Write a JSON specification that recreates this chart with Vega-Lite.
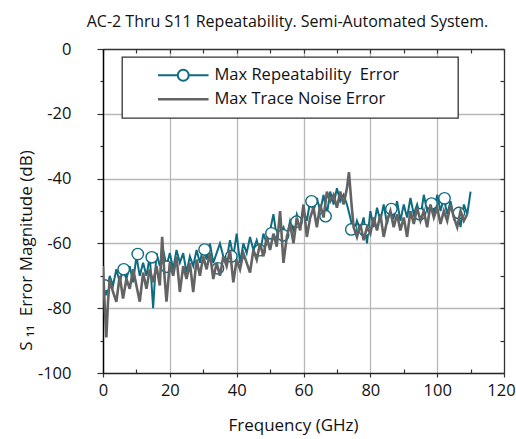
{
  "$schema": "https://vega.github.io/schema/vega-lite/v6.json",
  "width": 401,
  "height": 324,
  "autosize": "none",
  "padding": {"left": 103, "top": 49, "right": 12, "bottom": 66},
  "background": "white",
  "title": {"text": "AC-2 Thru S11 Repeatability. Semi-Automated System.", "font": "Open Sans", "fontSize": 16, "fontWeight": "normal", "color": "#111111", "anchor": "middle", "dx": -16, "offset": 11},
  "config": {"view": {"stroke": null}, "font": "Open Sans"},
  "datasets": {
    "repeat": [
      {"f":0,"db":-73},{"f":1,"db":-76},{"f":2,"db":-70},{"f":3,"db":-73},{"f":4,"db":-68},{"f":5,"db":-72},{"f":6,"db":-68},{"f":7,"db":-71},{"f":8,"db":-67},{"f":9,"db":-72},
      {"f":10,"db":-64},{"f":11,"db":-70},{"f":12,"db":-66},{"f":13,"db":-70},{"f":14,"db":-64},{"f":15,"db":-80},{"f":16,"db":-63},{"f":17,"db":-67},{"f":18,"db":-62},{"f":19,"db":-67},
      {"f":20,"db":-63},{"f":21,"db":-68},{"f":22,"db":-62},{"f":23,"db":-66},{"f":24,"db":-63},{"f":25,"db":-69},{"f":26,"db":-64},{"f":27,"db":-67},{"f":28,"db":-62},{"f":29,"db":-66},
      {"f":30,"db":-61},{"f":31,"db":-65},{"f":32,"db":-60},{"f":33,"db":-66},{"f":34,"db":-63},{"f":35,"db":-60},{"f":36,"db":-64},{"f":37,"db":-65},{"f":38,"db":-59},{"f":39,"db":-64},
      {"f":40,"db":-57},{"f":41,"db":-66},{"f":42,"db":-60},{"f":43,"db":-63},{"f":44,"db":-58},{"f":45,"db":-62},{"f":46,"db":-59},{"f":47,"db":-63},{"f":48,"db":-57},{"f":49,"db":-60},
      {"f":50,"db":-56},{"f":51,"db":-51},{"f":52,"db":-58},{"f":53,"db":-57},{"f":54,"db":-55},{"f":55,"db":-58},{"f":56,"db":-53},{"f":57,"db":-56},{"f":58,"db":-51},{"f":59,"db":-54},
      {"f":60,"db":-50},{"f":61,"db":-53},{"f":62,"db":-47},{"f":63,"db":-50},{"f":64,"db":-46},{"f":65,"db":-50},{"f":66,"db":-45},{"f":67,"db":-51},{"f":68,"db":-44},{"f":69,"db":-48},
      {"f":70,"db":-43},{"f":71,"db":-47},{"f":72,"db":-45},{"f":73,"db":-48},{"f":74,"db":-52},{"f":75,"db":-57},{"f":76,"db":-53},{"f":77,"db":-56},{"f":78,"db":-52},{"f":79,"db":-60},
      {"f":80,"db":-50},{"f":81,"db":-55},{"f":82,"db":-49},{"f":83,"db":-53},{"f":84,"db":-48},{"f":85,"db":-54},{"f":86,"db":-49},{"f":87,"db":-52},{"f":88,"db":-47},{"f":89,"db":-53},
      {"f":90,"db":-48},{"f":91,"db":-52},{"f":92,"db":-46},{"f":93,"db":-51},{"f":94,"db":-48},{"f":95,"db":-52},{"f":96,"db":-45},{"f":97,"db":-50},{"f":98,"db":-47},{"f":99,"db":-51},
      {"f":100,"db":-45},{"f":101,"db":-50},{"f":102,"db":-46},{"f":103,"db":-51},{"f":104,"db":-47},{"f":105,"db":-52},{"f":106,"db":-49},{"f":107,"db":-55},{"f":108,"db":-48},{"f":109,"db":-51},
      {"f":110,"db":-44}
    ],
    "markers": [
      {"f":0.5,"db":-73},{"f":6.2,"db":-68},{"f":10.4,"db":-63.3},{"f":14.6,"db":-64.3},{"f":19,"db":-67.2},{"f":30.4,"db":-61.9},{"f":34.4,"db":-67.7},{"f":38.4,"db":-64},
      {"f":46.9,"db":-62.1},{"f":50.4,"db":-56.9},{"f":53.9,"db":-57.5},{"f":57.9,"db":-53.3},{"f":62.4,"db":-47},{"f":66.6,"db":-51.6},{"f":74.3,"db":-55.7},{"f":78.3,"db":-55.9},
      {"f":86.3,"db":-49.4},{"f":94.8,"db":-51},{"f":98.3,"db":-47.7},{"f":102.2,"db":-46.1},{"f":106.5,"db":-50.6}
    ],
    "noise": [
      {"f":0,"db":-67},{"f":0.5,"db":-79},{"f":1,"db":-89},{"f":1.5,"db":-78},{"f":2,"db":-71},{"f":3,"db":-75},{"f":4,"db":-78},{"f":5,"db":-70},{"f":6,"db":-77},{"f":7,"db":-71},
      {"f":8,"db":-74},{"f":9,"db":-68},{"f":10,"db":-73},{"f":11,"db":-78},{"f":12,"db":-69},{"f":13,"db":-74},{"f":14,"db":-68},{"f":15,"db":-72},{"f":16,"db":-67},{"f":17,"db":-73},
      {"f":17.7,"db":-58},{"f":18.4,"db":-70},{"f":19,"db":-78},{"f":20,"db":-66},{"f":21,"db":-70},{"f":22,"db":-64},{"f":23,"db":-75},{"f":24,"db":-67},{"f":25,"db":-71},{"f":26,"db":-66},
      {"f":27,"db":-75},{"f":28,"db":-65},{"f":29,"db":-70},{"f":30,"db":-64},{"f":31,"db":-68},{"f":32,"db":-63},{"f":33,"db":-71},{"f":34,"db":-66},{"f":35,"db":-70},{"f":36,"db":-64},
      {"f":37,"db":-67},{"f":38,"db":-62},{"f":39,"db":-72},{"f":40,"db":-65},{"f":41,"db":-68},{"f":42,"db":-63},{"f":43,"db":-66},{"f":44,"db":-69},{"f":45,"db":-62},{"f":46,"db":-65},
      {"f":47,"db":-60},{"f":48,"db":-64},{"f":49,"db":-58},{"f":50,"db":-62},{"f":51,"db":-57},{"f":52,"db":-61},{"f":53,"db":-50},{"f":54,"db":-66},{"f":55,"db":-58},{"f":56,"db":-54},
      {"f":57,"db":-60},{"f":58,"db":-52},{"f":59,"db":-56},{"f":60,"db":-48},{"f":61,"db":-58},{"f":62,"db":-52},{"f":63,"db":-49},{"f":64,"db":-55},{"f":65,"db":-48},{"f":66,"db":-52},
      {"f":67,"db":-44},{"f":68,"db":-47},{"f":69,"db":-45},{"f":70,"db":-49},{"f":71,"db":-44},{"f":72,"db":-48},{"f":73,"db":-43},{"f":73.6,"db":-38},{"f":74.3,"db":-47},{"f":75,"db":-55},
      {"f":76,"db":-58},{"f":77,"db":-54},{"f":78,"db":-59},{"f":79,"db":-55},{"f":80,"db":-57},{"f":81,"db":-52},{"f":82,"db":-56},{"f":83,"db":-51},{"f":84,"db":-58},{"f":85,"db":-53},
      {"f":86,"db":-50},{"f":87,"db":-55},{"f":88,"db":-51},{"f":89,"db":-56},{"f":90,"db":-52},{"f":91,"db":-58},{"f":92,"db":-50},{"f":93,"db":-54},{"f":94,"db":-49},{"f":95,"db":-53},
      {"f":96,"db":-50},{"f":97,"db":-55},{"f":98,"db":-48},{"f":99,"db":-52},{"f":100,"db":-49},{"f":101,"db":-54},{"f":102,"db":-50},{"f":103,"db":-53},{"f":104,"db":-48},{"f":105,"db":-52},
      {"f":106,"db":-55},{"f":107,"db":-50},{"f":108,"db":-53},{"f":109,"db":-51}
    ]
  },
  "resolve": {"axis": {"x": "independent", "y": "independent"}},
  "layer": [
    {
      "data": {"name": "repeat"},
      "mark": {"type": "line", "strokeWidth": 2, "clip": true},
      "encoding": {
        "x": {"field": "f", "type": "quantitative", "scale": {"domain": [0, 120], "nice": false, "zero": false},
          "axis": {"orient": "bottom", "values": [0,10,20,30,40,50,60,70,80,90,100,110,120],
            "labelExpr": "datum.value % 20 === 0 ? '' + datum.value : ''",
            "grid": true, "gridColor": "#b8b8b8", "gridWidth": 1.3,
            "gridOpacity": {"condition": {"test": "datum.value % 20 === 0 && datum.value > 0 && datum.value < 120", "value": 1}, "value": 0},
            "tickSize": {"condition": {"test": "datum.value % 20 === 0", "value": 4}, "value": -4},
            "labelOffset": {"condition": {"test": "datum.value === 120", "value": -3}, "value": 0},
            "tickColor": "#333333", "tickWidth": 1.2, "domainColor": "#222222", "domainWidth": 1.3,
            "labelFont": "Open Sans", "labelFontSize": 16.5, "labelColor": "#111111", "labelPadding": 5, "labelFlush": false, "labelOverlap": false,
            "title": "Frequency (GHz)", "titleFont": "Open Sans", "titleFontSize": 17, "titleFontWeight": "normal", "titleColor": "#111111",
            "titleX": 190, "titleY": 57, "titleBaseline": "alphabetic", "titleAlign": "center"}},
        "y": {"field": "db", "type": "quantitative", "scale": {"domain": [-100, 0], "nice": false, "zero": false},
          "axis": {"orient": "left", "values": [-100,-90,-80,-70,-60,-50,-40,-30,-20,-10,0],
            "labelExpr": "datum.value % 20 === 0 ? '' + datum.value : ''",
            "grid": true, "gridColor": "#b8b8b8", "gridWidth": 1.3,
            "gridOpacity": {"condition": {"test": "datum.value % 20 === 0 && datum.value > -100 && datum.value < 0", "value": 1}, "value": 0},
            "tickSize": {"condition": {"test": "datum.value % 20 === 0", "value": 6}, "value": 3},
            "tickColor": "#333333", "tickWidth": 1.2, "domainColor": "#000000", "domainWidth": 1.5,
            "labelFont": "Open Sans", "labelFontSize": 16.5, "labelColor": "#111111", "labelPadding": 26,
            "title": "S\u00a0\u2081\u2081\u00a0 Error Magnitude (dB)", "titleFont": "Open Sans", "titleFontSize": 17, "titleFontWeight": "normal", "titleColor": "#111111",
            "titleX": -72, "titleY": 201, "titleBaseline": "alphabetic", "titleAlign": "center", "titleAngle": -90}},
        "color": {"datum": "Max Repeatability\u00a0 Error", "type": "nominal",
          "scale": {"domain": ["Max Repeatability\u00a0 Error", "Max Trace Noise Error"], "range": ["#0f6b7f", "#636363"]},
          "legend": {"orient": "none", "legendX": 19, "legendY": 8, "title": null, "direction": "vertical",
            "fillColor": "white", "strokeColor": "#333333", "padding": 10, "rowPadding": 6,
            "symbolOffset": 43, "labelOffset": 23, "symbolSize": 121,
            "labelFont": "Open Sans", "labelFontSize": 16.5, "labelColor": "#111111", "labelLimit": 600,
            "labelExpr": "datum.label + '\u2800\u2800\u2800\u2800'",
            "encode": {
              "symbols": {"update": {
                "shape": {"signal": "datum.value === 'Max Repeatability\u00a0 Error' ? 'M-4.6,0H-1M1,0H4.6M1,0A1,1 0 1,1 -1,0A1,1 0 1,1 1,0Z' : 'M-4.6,0H4.6'"},
                "fill": {"value": "white"},
                "fillOpacity": {"value": 1},
                "strokeWidth": {"signal": "datum.value === 'Max Repeatability\u00a0 Error' ? 2 : 2.6"},
                "opacity": {"value": 1}}},
              "legend": {"update": {"strokeWidth": {"value": 1.3}}}
            }}}
      }
    },
    {
      "data": {"name": "markers"},
      "mark": {"type": "point", "shape": "circle", "size": 130, "filled": false, "fill": "white", "fillOpacity": 1, "strokeWidth": 1.4, "opacity": 1, "clip": true},
      "encoding": {
        "x": {"field": "f", "type": "quantitative", "axis": null},
        "y": {"field": "db", "type": "quantitative", "axis": null},
        "color": {"datum": "Max Repeatability\u00a0 Error", "type": "nominal"}
      }
    },
    {
      "data": {"name": "noise"},
      "mark": {"type": "line", "strokeWidth": 2.6, "clip": true},
      "encoding": {
        "x": {"field": "f", "type": "quantitative",
          "axis": {"orient": "top", "values": [0,10,20,30,40,50,60,70,80,90,100,110,120], "labels": false, "grid": false, "tickSize": -4, "tickColor": "#333333", "tickWidth": 1.2, "domainColor": "#333333", "domainWidth": 1.3, "title": null}},
        "y": {"field": "db", "type": "quantitative",
          "axis": {"orient": "right", "values": [-100,-90,-80,-70,-60,-50,-40,-30,-20,-10,0], "labels": false, "grid": false, "tickSize": -4, "tickColor": "#333333", "tickWidth": 1.2, "domainColor": "#333333", "domainWidth": 1.3, "title": null}},
        "color": {"datum": "Max Trace Noise Error", "type": "nominal"}
      }
    }
  ]
}
